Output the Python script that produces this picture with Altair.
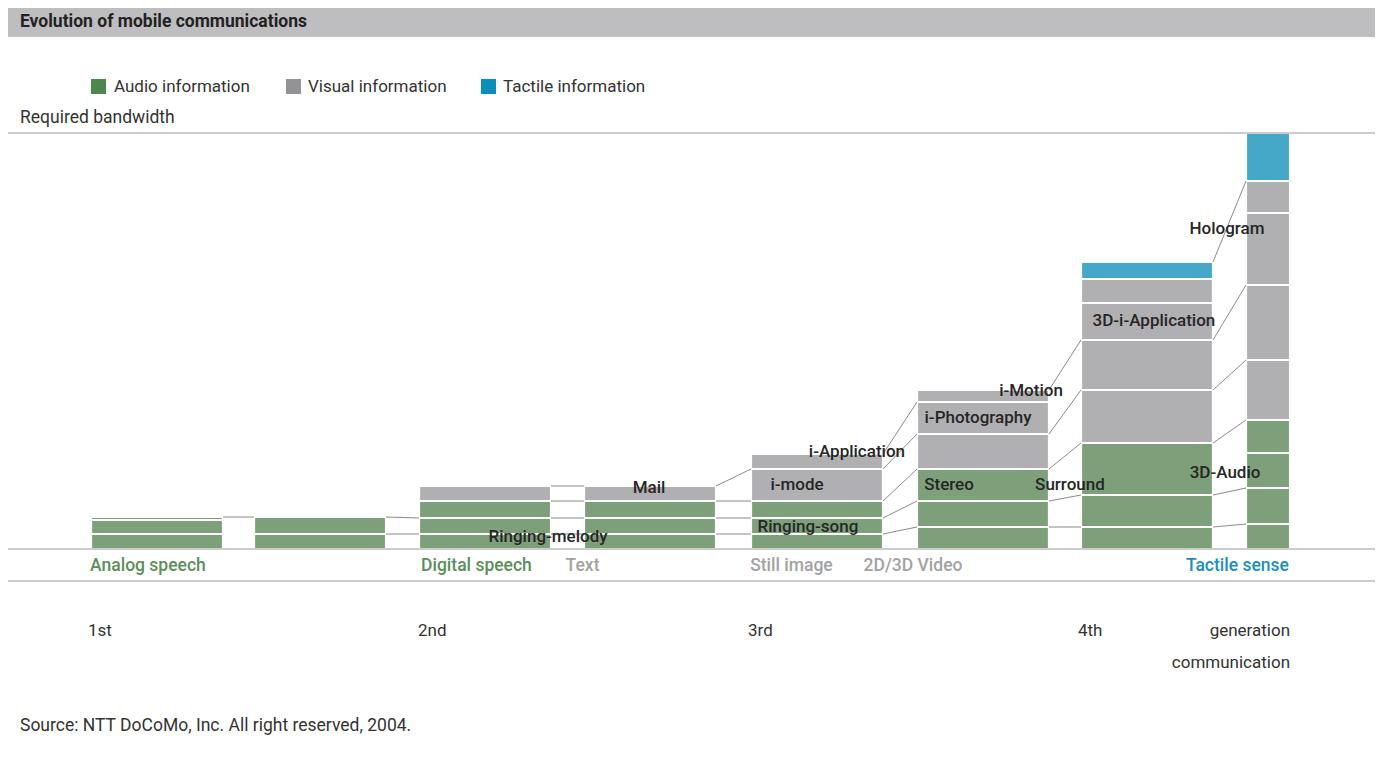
import altair as alt
import pandas as pd

# ---------------- data ----------------
bar_slot = [0, 0.988, 1.988, 2.988, 4.0, 5.006, 6.0, 7.0]
bar_width = [0.8, 0.8, 0.8, 0.8, 0.8, 0.8, 0.8, 0.267]

# cumulative segment tops per bar (required bandwidth, arbitrary units)
audio_tops = [[15, 29, 32], [15, 32], [15, 31, 48], [15, 31, 48], [15, 31, 48],
              [22, 48, 80], [22, 54, 106], [25, 61, 96, 129]]
visual_tops = [[], [], [63], [63], [80, 95], [115, 147, 159],
               [159, 209, 246, 270], [189, 264, 336, 368]]
tactile_tops = [[], [], [], [], [], [], [287], [416]]

kinds = ["Audio information", "Visual information", "Tactile information"]

# connecting lines between neighbouring bars: (value on left bar, value on right bar)
link_pairs = [
    [(32, 32)],
    [(15, 15), (32, 31)],
    [(15, 15), (31, 31), (48, 48), (63, 63)],
    [(15, 15), (31, 31), (48, 48), (63, 80)],
    [(15, 22), (31, 48), (48, 80), (80, 115), (95, 147)],
    [(22, 22), (48, 54), (80, 106), (115, 159), (159, 209)],
    [(22, 25), (54, 61), (106, 129), (159, 189), (209, 264), (287, 368)],
]

annot_text = ["Mail", "Ringing-melody", "i-Application", "i-mode", "Ringing-song",
              "i-Photography", "i-Motion", "Stereo", "Surround", "3D-i-Application",
              "Hologram", "3D-Audio"]
annot_x = [3.382, 2.770, 4.642, 4.279, 4.345, 5.376, 5.697, 5.20, 5.933, 6.442, 6.885, 6.873]
annot_y = [61, 12, 97, 64, 22, 131, 158, 64, 64, 228, 320, 76]

cat_text = ["Analog speech", "Digital speech", "Text", "Still image", "2D/3D Video", "Tactile sense"]
cat_kind = ["Audio information", "Audio information", "Visual information",
            "Visual information", "Visual information", "Tactile information"]
cat_x = [0.345, 2.336, 2.979, 4.245, 4.982, 6.948]

gen_text = ["1st", "2nd", "3rd", "4th"]
gen_x = [0, 2, 4, 6]

# ---------------- layout ----------------
W, H = 1367, 755
xs = alt.Scale(domain=[-83 / 165, 1284 / 165], nice=False, zero=False)
ys = alt.Scale(domain=[-214, 541], nice=False, zero=False)

bar_colors = ["#7DA07A", "#B0B0B2", "#46A8C8"]
legend_colors = ["#4E874E", "#939396", "#0A8FBD"]
cat_colors = {"Audio information": "#5A8F5A", "Visual information": "#A2A2A4",
              "Tactile information": "#1A8FC0"}
FONT = "Roboto"

rows = []
for i, s in enumerate(bar_slot):
    prev = 0
    for kind, tops in zip(kinds, (audio_tops[i], visual_tops[i], tactile_tops[i])):
        for t in tops:
            rows.append(dict(x=s, x2=s + bar_width[i], y=prev, y2=t, kind=kind))
            prev = t
seg = pd.DataFrame(rows)

lrows = []
for i, pairs in enumerate(link_pairs):
    for a, b in pairs:
        lrows.append(dict(x=bar_slot[i] + bar_width[i], x2=bar_slot[i + 1], y=a, y2=b))
links = pd.DataFrame(lrows)

one = pd.DataFrame({"a": [0]})

# title band
band = alt.Chart(one).mark_rect(color="#BEBEC0").encode(
    x=alt.value(0), x2=alt.value(W), y=alt.value(0), y2=alt.value(29))
title = alt.Chart(one).mark_text(text="Evolution of mobile communications", font=FONT,
                                 fontSize=17.5, fontWeight="bold", color="#222222",
                                 align="left", baseline="middle").encode(
    x=alt.value(12), y=alt.value(14))

# legend
leg_layers = []
for k, sx, tx, col in zip(kinds, [83, 278, 473], [106, 300, 495], legend_colors):
    leg_layers.append(alt.Chart(one).mark_rect(color=col).encode(
        x=alt.value(sx), x2=alt.value(sx + 15), y=alt.value(71), y2=alt.value(86)))
    leg_layers.append(alt.Chart(one).mark_text(text=k, font=FONT, fontSize=17,
                                               color="#333333", align="left",
                                               baseline="middle").encode(
        x=alt.value(tx), y=alt.value(79)))

ylabel = alt.Chart(one).mark_text(text="Required bandwidth", font=FONT, fontSize=17.5,
                                  color="#333333", align="left", baseline="middle").encode(
    x=alt.value(12), y=alt.value(110))

# horizontal frame lines at value levels
hl = pd.DataFrame({"y": [416, 0, -32]})
hlines = alt.Chart(hl).mark_rule(color="#9A9A9A", strokeWidth=1.2).encode(
    x=alt.value(0), x2=alt.value(W), y=alt.Y("y:Q", scale=ys, axis=None))

bars = alt.Chart(seg).mark_rect(stroke="white", strokeWidth=2.2).encode(
    x=alt.X("x:Q", scale=xs, axis=None), x2="x2",
    y=alt.Y("y:Q", scale=ys, axis=None), y2="y2",
    color=alt.Color("kind:N", scale=alt.Scale(domain=kinds, range=bar_colors), legend=None))

link_marks = alt.Chart(links).mark_rule(color="#8A8A8A", strokeWidth=1).encode(
    x=alt.X("x:Q", scale=xs, axis=None), x2="x2",
    y=alt.Y("y:Q", scale=ys, axis=None), y2="y2")

annot = alt.Chart(pd.DataFrame({"t": annot_text, "x": annot_x, "y": annot_y})).mark_text(
    font=FONT, fontSize=17, fontWeight=500, color="#262626", align="center",
    baseline="middle").encode(
    x=alt.X("x:Q", scale=xs, axis=None), y=alt.Y("y:Q", scale=ys, axis=None), text="t:N")

cat_df = pd.DataFrame({"t": cat_text, "x": cat_x, "kind": cat_kind, "y": [-17] * len(cat_text)})
cat_layers = []
for k in kinds:
    cat_layers.append(alt.Chart(cat_df).transform_filter(alt.datum.kind == k).mark_text(
        font=FONT, fontSize=17.5, fontWeight=500, color=cat_colors[k], align="center",
        baseline="middle").encode(
        x=alt.X("x:Q", scale=xs, axis=None), y=alt.Y("y:Q", scale=ys, axis=None), text="t:N"))

gen = alt.Chart(pd.DataFrame({"t": gen_text, "x": gen_x, "y": [-82] * 4})).mark_text(
    font=FONT, fontSize=17, color="#333333", align="left", baseline="middle", dx=-3).encode(
    x=alt.X("x:Q", scale=xs, axis=None), y=alt.Y("y:Q", scale=ys, axis=None), text="t:N")

gen2 = alt.Chart(pd.DataFrame({"t": ["generation", "communication"],
                               "x": [bar_slot[-1] + bar_width[-1]] * 2,
                               "y": [-82, -114]})).mark_text(
    font=FONT, fontSize=17, color="#333333", align="right", baseline="middle").encode(
    x=alt.X("x:Q", scale=xs, axis=None), y=alt.Y("y:Q", scale=ys, axis=None), text="t:N")

source = alt.Chart(one).mark_text(text="Source: NTT DoCoMo, Inc. All right reserved, 2004.",
                                  font=FONT, fontSize=17.5, color="#333333", align="left",
                                  baseline="middle").encode(
    x=alt.value(12), y=alt.value(718))

chart = alt.layer(
    band, title, *leg_layers, ylabel, bars, link_marks, hlines, annot, *cat_layers, gen, gen2, source
).properties(
    width=W, height=H, autosize=alt.AutoSizeParams(type="none"), padding=0,
    background="white"
).configure_view(stroke=None)

chart.save("out.html", embed_options={"renderer": "svg", "actions": False})
